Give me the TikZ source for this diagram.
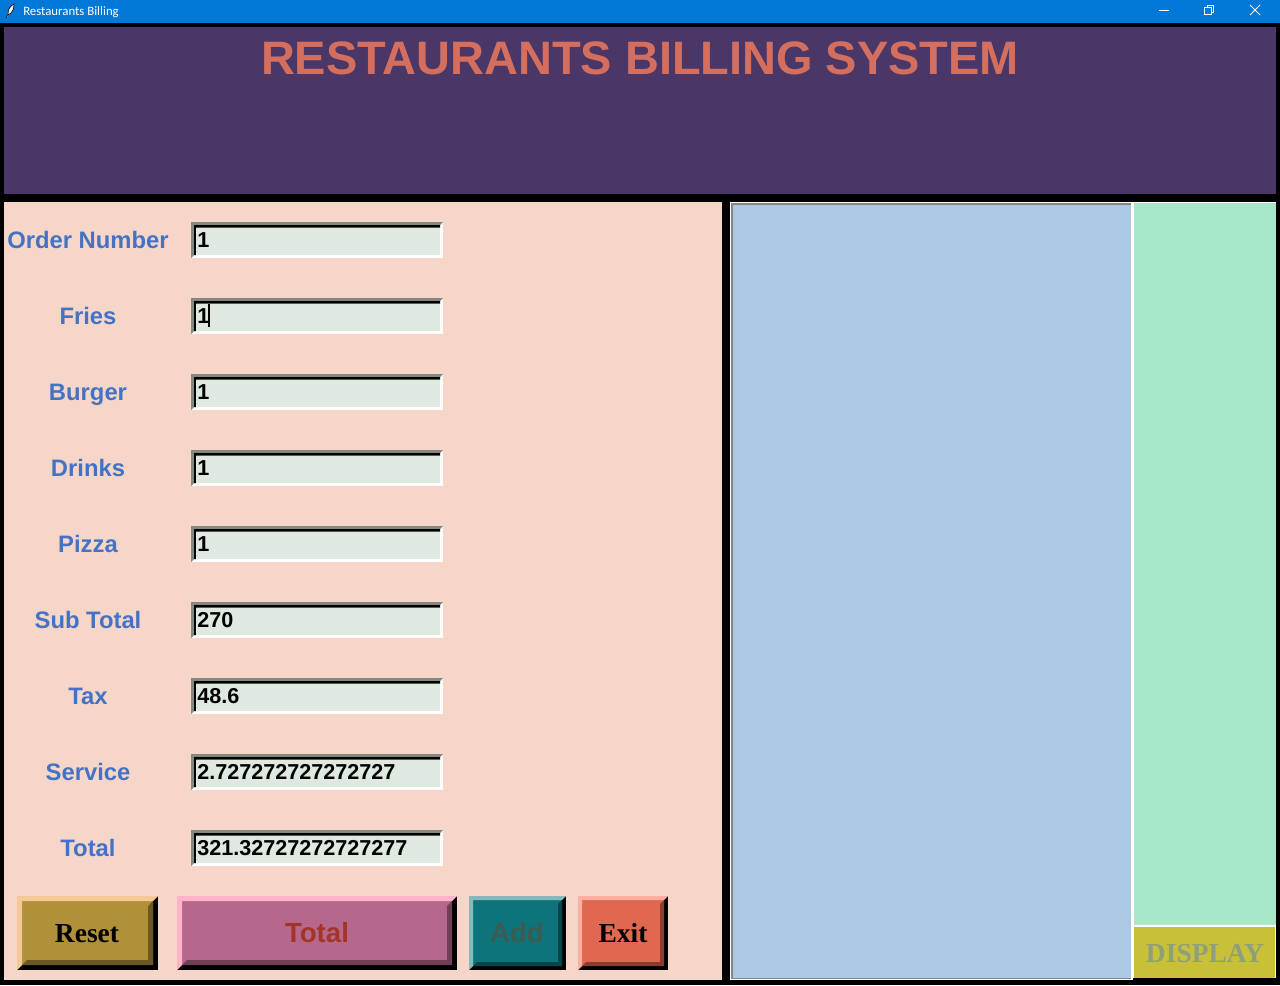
\documentclass[tikz,border=0pt]{standalone}
\usepackage{fontspec}
\setmainfont{Liberation Sans}
\newfontfamily\serifbold{Liberation Serif}
\newfontfamily\barfont{Carlito}
\usepackage{tikz}
\definecolor{barblue}{HTML}{0078D7}
\definecolor{headpurple}{HTML}{4A3768}
\definecolor{headtitle}{HTML}{D46F5F}
\definecolor{formpink}{HTML}{F7D6CA}
\definecolor{lblblue}{HTML}{4472C4}
\definecolor{entryface}{HTML}{DFE9DF}
\definecolor{entrygray}{HTML}{84887F}
\definecolor{billblue}{HTML}{ABC8E4}
\definecolor{billgreen}{HTML}{A8E8CA}
\definecolor{dispface}{HTML}{C8C038}
\definecolor{disptext}{HTML}{8E9F7C}
\definecolor{btnreset}{HTML}{B09038}
\definecolor{btnresetl}{HTML}{F5C896}
\definecolor{btnresetd}{HTML}{6B5823}
\definecolor{btntotal}{HTML}{B5688C}
\definecolor{btntotall}{HTML}{FFB3C8}
\definecolor{btntotald}{HTML}{6E3F55}
\definecolor{btntotalt}{HTML}{A33428}
\definecolor{btnadd}{HTML}{0E747C}
\definecolor{btnaddl}{HTML}{87B9BC}
\definecolor{btnaddd}{HTML}{084549}
\definecolor{btnaddt}{HTML}{3C5B52}
\definecolor{btnexit}{HTML}{E06750}
\definecolor{btnexitl}{HTML}{FFAE9F}
\definecolor{btnexitd}{HTML}{873E30}
\newcommand{\raisedbtn}[8]{%
  \fill[black] (#1,#2) rectangle (#3,#4);
  \fill[#6] ({#1+#5},{#2+#5}) rectangle ({#3-#5},{#4-#5});
  \fill[#7] (#1,#2) -- (#3,#2) -- ({#3-#5},{#2+#5}) -- ({#1+#5},{#2+#5}) -- ({#1+#5},{#4-#5}) -- (#1,#4) -- cycle;
  \fill[#8] ({#3-#5},{#2+#5}) -- ({#3-#5},{#4-#5}) -- ({#1+#5},{#4-#5}) -- ({#1+2*#5},{#4-2*#5}) -- ({#3-2*#5},{#4-2*#5}) -- ({#3-2*#5},{#2+2*#5}) -- cycle;
}
\begin{document}
\begin{tikzpicture}[x=0.75pt, y=-0.75pt, inner sep=0pt,
  lbl/.style={anchor=base, font=\fontsize{17.85}{20}\selectfont\bfseries, text=lblblue},
  val/.style={anchor=base west, font=\fontsize{16.2}{18}\selectfont\bfseries, text=black},
  btnsans/.style={anchor=base, font=\fontsize{20.7}{22}\selectfont\bfseries},
  btnserif/.style={anchor=base, font=\fontsize{20.6}{22}\serifbold\bfseries},
  winbtn/.style={draw=white, line width=0.75pt}]
\useasboundingbox (0,0) rectangle (1280,985);
\fill[black] (0,0) rectangle (1280,985);
\fill[barblue] (0,0) rectangle (1280,23);
\fill[headpurple] (4,27) rectangle (1276,194);
\fill[formpink] (4,202) rectangle (722,980);
\fill[white] (730,202) rectangle (1276,980);
\fill[entrygray] (731,203) rectangle (1131,979);
\fill[billblue] (733,205) rectangle (1131,978);
\fill[billgreen] (1133.5,203) rectangle (1276,925);
\fill[dispface] (1133.5,926.5) rectangle (1275,977.5);
\fill[black] (1132.5,978) rectangle (1276,980);
\fill[white] (7,17) .. controls (8,10) and (10,6) .. (14,4) .. controls (14,10) and (12,14) .. (8,15) -- cycle;
\draw[black, line width=0.5pt] (6,18) -- (8,14) .. controls (8,9) and (10,6) .. (14,4) .. controls (14,10) and (12,13) .. (8,15);
\node[anchor=base west, font=\fontsize{9.6}{11}\barfont, text=white] (wintitle) at (23,16) {Restaurants Billing};
\draw[winbtn] (1159,10) -- (1169,10);
\draw[winbtn] (1204.5,7.5) rectangle (1211.5,14.5);
\draw[winbtn] (1207,7.5) -- (1207,5.5) -- (1213.5,5.5) -- (1213.5,12) -- (1211.5,12);
\draw[winbtn] (1250,5) -- (1260,15) (1260,5) -- (1250,15);
\node[anchor=base, font=\fontsize{35.2}{38}\selectfont\bfseries, text=headtitle] (title) at (640,74.5) {RESTAURANTS BILLING SYSTEM};
\foreach \i/\name/\amount in {0/Order Number/1, 1/Fries/1, 2/Burger/1, 3/Drinks/1, 4/Pizza/1, 5/Sub Total/270, 6/Tax/48.6, 7/Service/2.727272727272727, 8/Total/321.32727272727277} {
  \pgfmathsetmacro{\ytop}{222+76*\i}
  \fill[white] (191,\ytop) -- (443,\ytop) -- (443,\ytop+36) -- (191,\ytop+36) -- cycle;
  \fill[entrygray] (191,\ytop) -- (443,\ytop) -- (440,\ytop+3) -- (194,\ytop+3) -- (194,\ytop+33) -- (191,\ytop+36) -- cycle;
  \fill[black] (194,\ytop+3) -- (440,\ytop+3) -- (440,\ytop+5.5) -- (196,\ytop+5.5) -- (196,\ytop+33) -- (194,\ytop+33) -- cycle;
  \fill[entryface] (196,\ytop+5.5) rectangle (440,\ytop+33);
  \node[lbl] (lbl\i) at (88,\ytop+26) {\name};
  \node[val] (ent\i) at (197,\ytop+25.5) {\amount};
}
\fill[black] (208,303.5) rectangle (210,327);
\raisedbtn{17}{896}{158}{970}{5}{btnreset}{btnresetl}{btnresetd}
\raisedbtn{177}{896}{457}{970}{5}{btntotal}{btntotall}{btntotald}
\raisedbtn{469}{896}{566}{970}{4}{btnadd}{btnaddl}{btnaddd}
\raisedbtn{578}{896}{668}{970}{4}{btnexit}{btnexitl}{btnexitd}
\node[btnserif, text=black] (reset) at (87,942) {Reset};
\node[btnsans, text=btntotalt] (total) at (317,942) {Total};
\node[btnsans, text=btnaddt] (add) at (517,942) {Add};
\node[btnserif, text=black] (exit) at (623,942) {Exit};
\node[btnserif, text=disptext] (display) at (1205,962) {DISPLAY};
\end{tikzpicture}
\end{document}
